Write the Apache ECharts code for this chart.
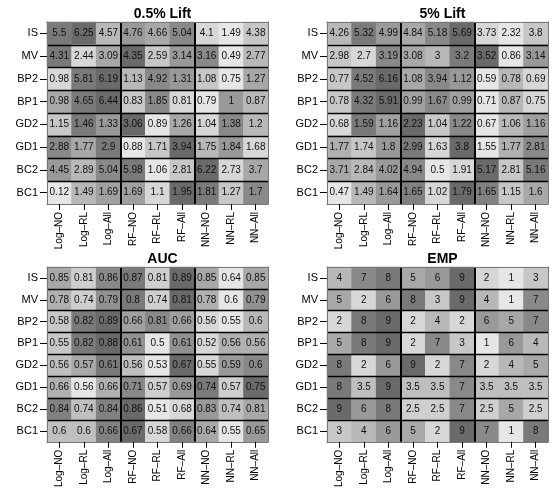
<!DOCTYPE html>
<html><head><meta charset="utf-8">
<script src="https://cdn.jsdelivr.net/npm/echarts@6/dist/echarts.min.js"></script>
<style>html,body{margin:0;padding:0;background:#fff}#c{width:560px;height:490px}</style>
</head><body><div id="c"></div>
<script>
const columns = ["Log–NO","Log–RL","Log–All","RF–NO","RF–RL","RF–All","NN–NO","NN–RL","NN–All"];
const rows = ["IS","MV","BP2","BP1","GD2","GD1","BC2","BC1"];
const titles = ["0.5% Lift","5% Lift","AUC","EMP"];

const lift05 = [
  [5.5,6.25,4.57,4.76,4.66,5.04,4.1,1.49,4.38],
  [4.31,2.44,3.09,4.35,2.59,3.14,3.16,0.49,2.77],
  [0.98,5.81,6.19,1.13,4.92,1.31,1.08,0.75,1.27],
  [0.98,4.65,6.44,0.83,1.85,0.81,0.79,1,0.87],
  [1.15,1.46,1.33,3.06,0.89,1.26,1.04,1.38,1.2],
  [2.88,1.77,2.9,0.88,1.71,3.94,1.75,1.84,1.68],
  [4.45,2.89,5.04,5.98,1.06,2.81,6.22,2.73,3.7],
  [0.12,1.49,1.69,1.69,1.1,1.95,1.81,1.27,1.7]
];
const lift5 = [
  [4.26,5.32,4.99,4.84,5.18,5.69,3.73,2.32,3.8],
  [2.98,2.7,3.19,3.08,3,3.2,3.52,0.86,3.14],
  [0.77,4.52,6.16,1.08,3.94,1.12,0.59,0.78,0.69],
  [0.78,4.32,5.91,0.99,1.67,0.99,0.71,0.87,0.75],
  [0.68,1.59,1.16,2.23,1.04,1.22,0.67,1.06,1.16],
  [1.77,1.74,1.8,2.99,1.63,3.8,1.55,1.77,2.81],
  [3.71,2.84,4.02,4.94,0.5,1.91,5.17,2.81,5.16],
  [0.47,1.49,1.64,1.65,1.02,1.79,1.65,1.15,1.6]
];
const auc = [
  [0.85,0.81,0.86,0.87,0.81,0.89,0.85,0.64,0.85],
  [0.78,0.74,0.79,0.8,0.74,0.81,0.78,0.6,0.79],
  [0.58,0.82,0.89,0.66,0.81,0.66,0.56,0.55,0.6],
  [0.55,0.82,0.88,0.61,0.5,0.61,0.52,0.56,0.56],
  [0.56,0.57,0.61,0.56,0.53,0.67,0.55,0.59,0.6],
  [0.66,0.56,0.66,0.71,0.57,0.69,0.74,0.57,0.75],
  [0.84,0.74,0.84,0.86,0.51,0.68,0.83,0.74,0.81],
  [0.6,0.6,0.66,0.67,0.58,0.66,0.64,0.55,0.65]
];
const emp = [
  [4,7,8,5,6,9,2,1,3],
  [5,2,6,8,3,9,4,1,7],
  [2,8,9,2,4,2,6,5,7],
  [5,8,9,2,7,3,1,6,4],
  [8,2,6,9,2,7,2,4,5],
  [8,3.5,9,3.5,3.5,7,3.5,3.5,3.5],
  [9,6,8,2.5,2.5,7,2.5,5,2.5],
  [3,4,6,5,2,9,7,1,8]
];
const panels = [lift05, lift5, auc, emp];

function ranks(arr){
  return arr.map(v => {
    let less = 0, eq = 0;
    arr.forEach(w => { if (w < v) less++; else if (w === v) eq++; });
    return less + (eq + 1) / 2;
  });
}
function rankColor(r){
  const g = Math.round(230 - (r - 1) * 15.5);
  return 'rgb(' + g + ',' + g + ',' + g + ')';
}

const lefts = [47, 327, 47, 327];
const tops = [22, 22, 267, 267];
const W = 221, H = 182;
const font = 'Liberation Sans, Arial, Helvetica, sans-serif';

const grid = [], xAxis = [], yAxis = [], series = [], title = [];
panels.forEach((mat, p) => {
  grid.push({left: lefts[p], top: tops[p], width: W, height: H, show: false});
  title.push({text: titles[p], left: lefts[p] + W / 2, top: tops[p] - 20, textAlign: 'center',
    textStyle: {fontFamily: font, fontSize: 14, fontWeight: 'bold', color: '#000'}});
  xAxis.push({type: 'category', data: columns, gridIndex: p, position: 'bottom', z: 10,
    axisLine: {show: true, lineStyle: {color: '#777', width: 1}},
    axisTick: {show: true, alignWithLabel: true, length: 6, lineStyle: {color: '#000'}},
    axisLabel: {rotate: 90, fontSize: 10, margin: 8, color: '#000', fontFamily: font},
    splitLine: {show: false}});
  xAxis.push({type: 'value', gridIndex: p, min: 0, max: 9, interval: 3, position: 'top', z: 10,
    axisLine: {show: true, lineStyle: {color: '#777', width: 1}},
    axisTick: {show: false}, axisLabel: {show: false},
    splitLine: {show: true, showMinLine: false, showMaxLine: false, lineStyle: {color: '#000', width: 2}}});
  yAxis.push({type: 'category', data: rows, gridIndex: p, inverse: true, position: 'left', z: 10,
    axisLine: {show: true, lineStyle: {color: '#777', width: 1}},
    axisTick: {show: true, alignWithLabel: true, length: 7, lineStyle: {color: '#000'}},
    axisLabel: {fontSize: 11, margin: 9, color: '#000', fontFamily: font},
    splitLine: {show: false}});
  yAxis.push({type: 'value', gridIndex: p, min: 0, max: 8, interval: 1, position: 'right', z: 10,
    axisLine: {show: true, lineStyle: {color: '#777', width: 1}},
    axisTick: {show: false}, axisLabel: {show: false},
    splitLine: {show: true, showMinLine: false, showMaxLine: false, lineStyle: {color: '#000', width: 1.3}}});
  const data = [];
  mat.forEach((row, i) => {
    const rk = ranks(row);
    row.forEach((v, j) => {
      data.push({value: [j, i, v], itemStyle: {color: rankColor(rk[j])}});
    });
  });
  series.push({type: 'heatmap', xAxisIndex: 2 * p, yAxisIndex: 2 * p, data: data,
    itemStyle: {borderWidth: 0},
    label: {show: true, formatter: q => String(q.value[2]), fontSize: 10, color: '#111', fontFamily: font},
    emphasis: {disabled: true}});
});

const chart = echarts.init(document.getElementById('c'), null, {renderer: 'canvas'});
chart.setOption({backgroundColor: '#fff', animation: false, title, grid, xAxis, yAxis, series});
</script>
</body></html>
